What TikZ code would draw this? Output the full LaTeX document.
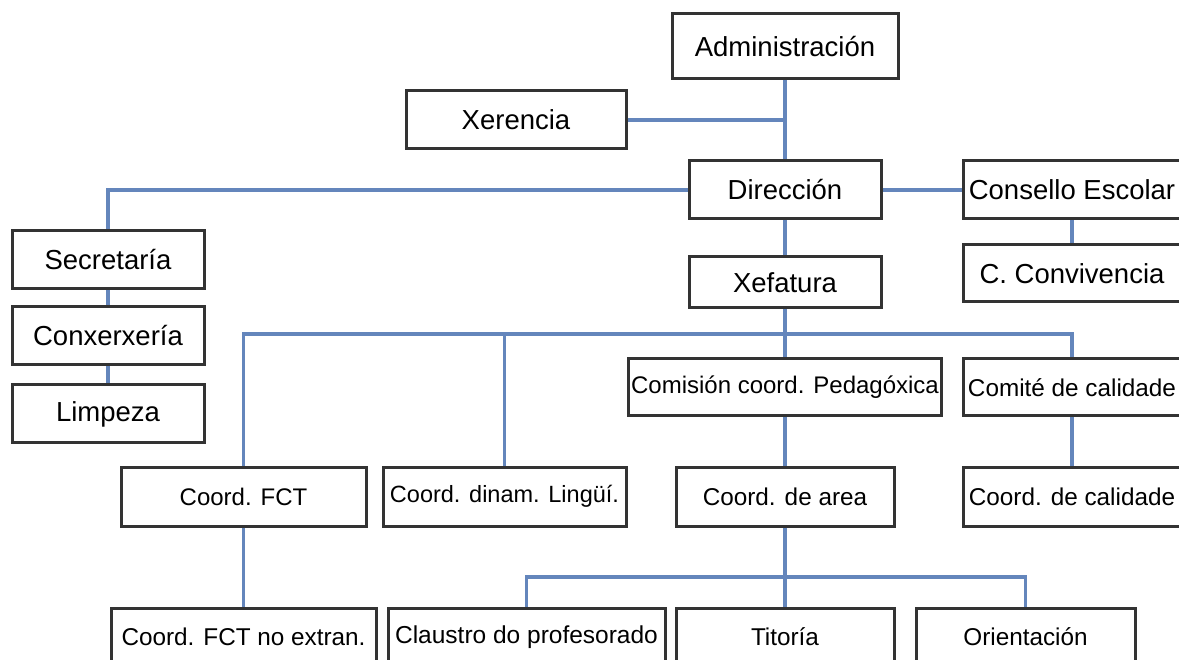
\documentclass[tikz,border=0pt]{standalone}
\usepackage{fontspec}
\setmainfont{Liberation Sans}
\definecolor{linkc}{RGB}{100,134,188}
\tikzset{
  box/.style={draw=black!80, line width=3pt, fill=white, inner sep=0pt,
    font=\fontsize{27.5}{32}\selectfont, text=black},
  small/.style={font=\fontsize{24.3}{29}\selectfont},
  link/.style={draw=linkc, line width=3.5pt}
}
\begin{document}
\begin{tikzpicture}[x=1pt,y=-1pt]
\useasboundingbox (0,0) rectangle (1179,660);
\clip (0,0) rectangle (1179,660);
\coordinate (busA) at (785,334);
\coordinate (busB) at (785,577);
\coordinate (xj) at (785,120);
% nodes
\node[box, minimum width=226pt, minimum height=65pt] (adm) at (785,46.5) {Administración};
\node[box, minimum width=220pt, minimum height=58pt] (xer) at (516,120) {Xerencia};
\node[box, minimum width=192pt, minimum height=58pt] (dir) at (785,190) {Dirección};
\node[box, minimum width=192pt, minimum height=58pt] (sec) at (108,260) {Secretaría};
\node[box, minimum width=192pt, minimum height=58pt] (conx) at (108,336) {Conxerxería};
\node[box, minimum width=192pt, minimum height=58pt] (lim) at (108,414) {Limpeza};
\node[box, minimum width=218pt, minimum height=58pt] (cons) at (1072,190) {Consello Escolar};
\node[box, minimum width=218pt, minimum height=57pt] (conv) at (1072,273.5) {C. Convivencia};
\node[box, minimum width=192pt, minimum height=51pt] (xef) at (785,282.5) {Xefatura};
\node[box, small, minimum width=313pt, minimum height=57pt, font=\fontsize{24}{29}\selectfont] (com) at (785,387.5) {Comisión coord. Pedagóxica};
\node[box, small, minimum width=218pt, minimum height=57pt] (comite) at (1072,387.5) {Comité de calidade};
\node[box, small, minimum width=245pt, minimum height=59pt, font=\fontsize{24}{29}\selectfont] (fct) at (243.5,496.5) {Coord. FCT};
\node[box, small, minimum width=243pt, minimum height=59pt, font=\fontsize{23.5}{28}\selectfont] (din) at (504.5,496.5) {Coord. dinam. Lingüí.};
\node[box, small, minimum width=218pt, minimum height=59pt] (area) at (785,496.5) {Coord. de area};
\node[box, small, minimum width=218pt, minimum height=59pt] (cal) at (1072,496.5) {Coord. de calidade};
\node[box, small, minimum width=265pt, minimum height=58pt] (nox) at (243.5,637) {Coord. FCT no extran.};
\node[box, small, minimum width=277pt, minimum height=58pt, font=\fontsize{24.5}{29}\selectfont] (cla) at (526.5,637) {Claustro do profesorado};
\node[box, small, minimum width=218pt, minimum height=58pt] (tit) at (785,637) {Titoría};
\node[box, small, minimum width=219pt, minimum height=58pt] (ori) at (1025.5,637) {Orientación};
% connectors
\draw[link] (adm.south) -- (dir.north);
\draw[link] (xer.east) -- (xj);
\draw[link] (dir.west) -| (sec.north);
\draw[link] (dir.east) -- (cons.west);
\draw[link] (cons.south) -- (conv.north);
\draw[link] (sec.south) -- (conx.north);
\draw[link] (conx.south) -- (lim.north);
\draw[link] (dir.south) -- (xef.north);
\draw[link] (xef.south) -- (com.north);
\draw[link] (fct.north) |- (busA) -| (comite.north);
\draw[link] (din.north) -- (din.north |- busA);
\draw[link] (com.south) -- (area.north);
\draw[link] (comite.south) -- (cal.north);
\draw[link] (fct.south) -- (nox.north);
\draw[link] (area.south) -- (tit.north);
\draw[link] (cla.north) |- (busB) -| (ori.north);
\end{tikzpicture}
\end{document}
